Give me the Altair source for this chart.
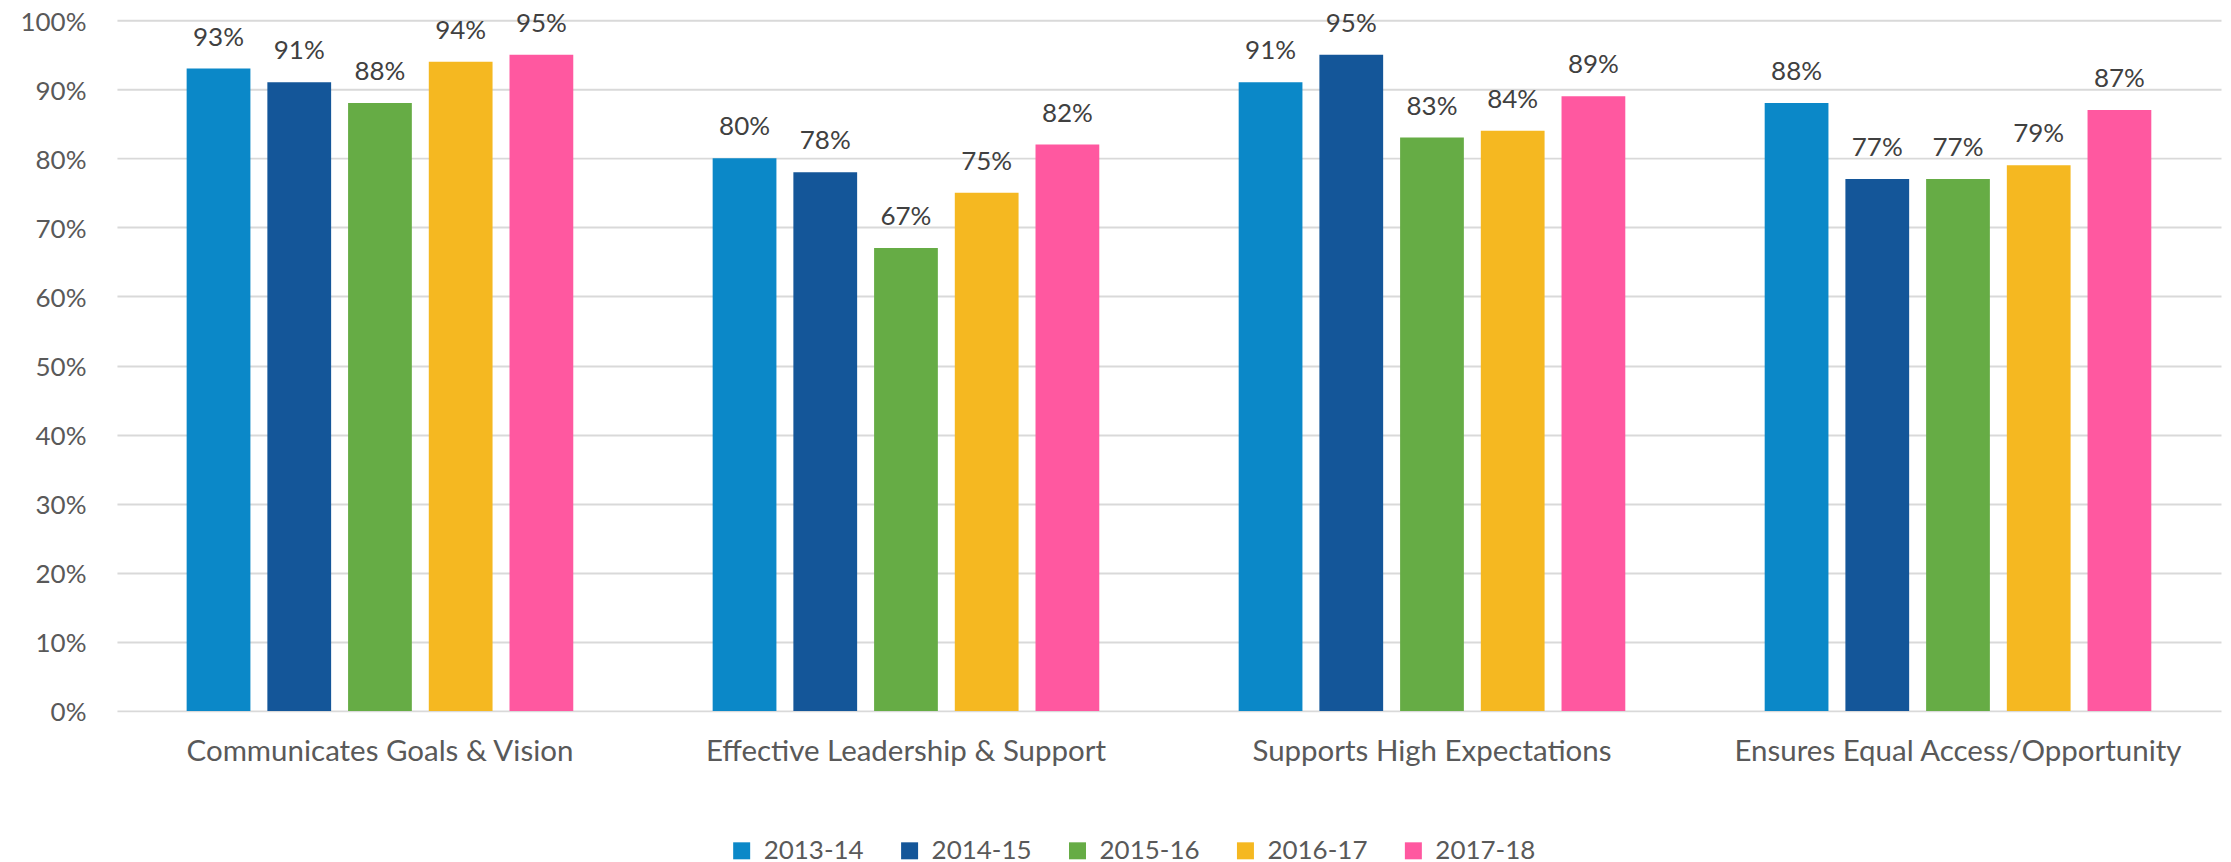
import altair as alt
import pandas as pd

categories = [
    "Communicates Goals & Vision",
    "Effective Leadership & Support",
    "Supports High Expectations",
    "Ensures Equal Access/Opportunity",
]
years = ["2013-14", "2014-15", "2015-16", "2016-17", "2017-18"]
v_2013_14 = [0.93, 0.80, 0.91, 0.88]
v_2014_15 = [0.91, 0.78, 0.95, 0.77]
v_2015_16 = [0.88, 0.67, 0.83, 0.77]
v_2016_17 = [0.94, 0.75, 0.84, 0.79]
v_2017_18 = [0.95, 0.82, 0.89, 0.87]
colors = ["#0B88C8", "#145699", "#66AC45", "#F5B821", "#FF58A0"]
y_ticks = [i / 10 for i in range(11)]

series = [v_2013_14, v_2014_15, v_2015_16, v_2016_17, v_2017_18]
rows = []
for yr, vals in zip(years, series):
    for cat, v in zip(categories, vals):
        rows.append({"Category": cat, "Year": yr, "Value": v})
df = pd.DataFrame(rows)

FONT = "Lato"
FS = 26

x_enc = alt.X(
    "Category:N",
    sort=categories,
    scale=alt.Scale(paddingInner=0.265, paddingOuter=0.1325),
    axis=alt.Axis(
        title=None, labelAngle=0, labelFontSize=29.5, labelColor="#595959",
        labelFont=FONT, domain=False, ticks=False, labelPadding=27,
        grid=False, labelLimit=0,
    ),
)
xoff_enc = alt.XOffset(
    "Year:N", sort=years, scale=alt.Scale(paddingInner=0.21, paddingOuter=0)
)
y_enc = alt.Y(
    "Value:Q",
    scale=alt.Scale(domain=[0, 1], nice=False),
    axis=alt.Axis(
        title=None, format=".0%", values=y_ticks, labelFontSize=FS,
        labelColor="#595959", labelFont=FONT, domain=False, ticks=False,
        labelPadding=31, labelOffset=2, gridColor="#D9D9D9", gridWidth=2,
    ),
)

bars = alt.Chart(df).mark_bar().encode(
    x=x_enc,
    xOffset=xoff_enc,
    y=y_enc,
    color=alt.Color(
        "Year:N",
        sort=years,
        scale=alt.Scale(domain=years, range=colors),
        legend=alt.Legend(
            title=None, orient="none", direction="horizontal",
            legendX=612, legendY=818, symbolType="square", symbolSize=289,
            symbolStrokeWidth=0, labelFontSize=FS, labelFont=FONT,
            labelColor="#595959", columnPadding=32, labelOffset=9,
        ),
    ),
)

labels = alt.Chart(df).mark_text(
    baseline="bottom", dy=-18, fontSize=FS, font=FONT, color="#404040"
).encode(
    x=alt.X("Category:N", sort=categories),
    xOffset=alt.XOffset("Year:N", sort=years),
    y=alt.Y("Value:Q"),
    text=alt.Text("Value:Q", format=".0%"),
)

chart = (
    alt.layer(bars, labels)
    .properties(
        width=2105,
        height=691,
        autosize=alt.AutoSizeParams(type="none"),
        padding={"left": 109, "top": 12, "right": 2, "bottom": 150},
    )
    .configure_view(stroke=None)
)

chart.save("out.html", embed_options={"renderer": "svg", "actions": False})
